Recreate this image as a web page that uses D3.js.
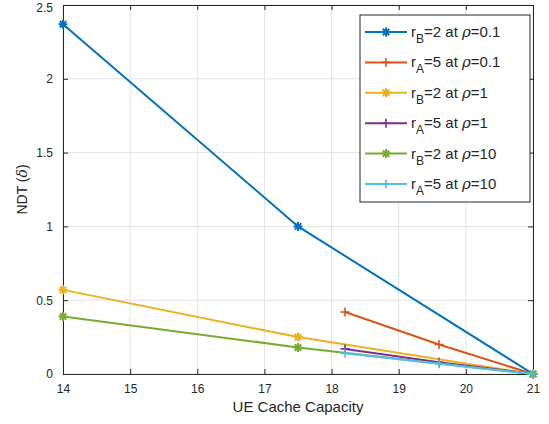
<!DOCTYPE html>
<html>
<head>
<meta charset="utf-8">
<script src="https://cdn.jsdelivr.net/npm/d3@7"></script>
<style>
  body { margin: 0; background: #fff; }
  svg { display: block; font-family: "Liberation Sans", Arial, sans-serif; }
</style>
</head>
<body>
<div id="chart"></div>
<script>
// data
const xTicks = [14, 15, 16, 17, 18, 19, 20, 21];
const yTicks = [0, 0.5, 1, 1.5, 2, 2.5];

const xB = [14, 17.5, 21];
const xA = [18.2, 19.6, 21];

const rB01 = [2.37, 1.0, 0];
const rA01 = [0.42, 0.2, 0];
const rB1 = [0.57, 0.25, 0];
const rA1 = [0.17, 0.08, 0];
const rB10 = [0.39, 0.18, 0];
const rA10 = [0.14, 0.07, 0];

const seriesNames = [
  { sub: "B", val: "2", rho: "0.1" },
  { sub: "A", val: "5", rho: "0.1" },
  { sub: "B", val: "2", rho: "1" },
  { sub: "A", val: "5", rho: "1" },
  { sub: "B", val: "2", rho: "10" },
  { sub: "A", val: "5", rho: "10" }
];
const colors = ["#0072BD", "#D95319", "#EDB120", "#7E2F8E", "#77AC30", "#4DBEEE"];
const markers = ["star", "plus", "star", "plus", "star", "plus"];

const series = [
  { x: xB, y: rB01 }, { x: xA, y: rA01 },
  { x: xB, y: rB1 }, { x: xA, y: rA1 },
  { x: xB, y: rB10 }, { x: xA, y: rA10 }
];

const W = 549, H = 424;
const margin = { left: 63, right: 16, top: 5, bottom: 50 };
const iw = W - margin.left - margin.right;
const ih = H - margin.top - margin.bottom;

const svg = d3.select("#chart").append("svg")
  .attr("width", W).attr("height", H);

const g = svg.append("g").attr("transform", `translate(${margin.left},${margin.top})`);

const x = d3.scaleLinear().domain([14, 21]).range([0, iw]);
const y = d3.scaleLinear().domain([0, 2.5]).range([ih, 0]);

// grid
g.append("g").selectAll("line").data(xTicks).join("line")
  .attr("x1", d => x(d)).attr("x2", d => x(d))
  .attr("y1", 0).attr("y2", ih)
  .attr("stroke", "#e3e3e3").attr("stroke-width", 1);
g.append("g").selectAll("line").data(yTicks).join("line")
  .attr("x1", 0).attr("x2", iw)
  .attr("y1", d => y(d)).attr("y2", d => y(d))
  .attr("stroke", "#e3e3e3").attr("stroke-width", 1);

// axes
const xAxis = g.append("g").attr("transform", `translate(0,${ih})`)
  .call(d3.axisBottom(x).tickValues(xTicks).tickSizeInner(-5).tickSizeOuter(0).tickPadding(8)
    .tickFormat(d3.format("d")));
const yAxis = g.append("g")
  .call(d3.axisLeft(y).tickValues(yTicks).tickSizeInner(-5).tickSizeOuter(0).tickPadding(8)
    .tickFormat(d3.format("~g")));
g.append("g").call(d3.axisTop(x).tickValues(xTicks).tickSizeInner(-5).tickSizeOuter(0).tickFormat(""));
g.append("g").attr("transform", `translate(${iw},0)`)
  .call(d3.axisRight(y).tickValues(yTicks).tickSizeInner(-5).tickSizeOuter(0).tickFormat(""));

g.selectAll(".domain").attr("stroke", "#262626");
g.selectAll(".tick line").attr("stroke", "#262626");
g.selectAll(".tick text").attr("fill", "#262626").style("font-size", "12px")
  .style("font-family", "'Liberation Sans', Arial, sans-serif");
xAxis.selectAll(".tick text").attr("dy", "0.9em");
yAxis.selectAll(".tick text").attr("dx", "-2")
  .attr("y", d => d === 2.5 ? 3 : 0); // keep top label inside the window

// axis labels
svg.append("text")
  .attr("x", margin.left + iw / 2).attr("y", H - 12)
  .attr("text-anchor", "middle").attr("fill", "#262626")
  .style("font-size", "15px").text("UE Cache Capacity");

const yl = svg.append("text")
  .attr("transform", `translate(27,${margin.top + ih / 2}) rotate(-90)`)
  .attr("text-anchor", "middle").attr("fill", "#262626")
  .style("font-size", "14px");
yl.append("tspan").text("NDT (");
yl.append("tspan").style("font-style", "italic").style("font-family", "'DejaVu Serif', serif").text("δ");
yl.append("tspan").text(")");

function markerPath(type, s) {
  if (type === "plus") return `M${-s},0H${s}M0,${-s}V${s}`;
  const d = s * 0.72;
  return `M${-s},0H${s}M0,${-s}V${s}M${-d},${-d}L${d},${d}M${-d},${d}L${d},${-d}`;
}

const line = d3.line().x(d => x(d[0])).y(d => y(d[1]));

series.forEach((s, i) => {
  const pts = s.x.map((v, j) => [v, s.y[j]]);
  g.append("path").datum(pts)
    .attr("fill", "none").attr("stroke", colors[i]).attr("stroke-width", 2)
    .attr("d", line);
  g.append("g").selectAll("path").data(pts).join("path")
    .attr("transform", d => `translate(${x(d[0])},${y(d[1])})`)
    .attr("d", markerPath(markers[i], 4.5))
    .attr("stroke", colors[i]).attr("stroke-width", markers[i] === "star" ? 2 : 1.6)
    .attr("fill", "none");
});

// legend
const lg = svg.append("g").attr("transform", "translate(360,15)");
lg.append("rect").attr("width", 170).attr("height", 187)
  .attr("fill", "#fff").attr("stroke", "#262626").attr("stroke-width", 1);

seriesNames.forEach((n, i) => {
  const cy = 17 + i * 30.4;
  const row = lg.append("g").attr("transform", `translate(0,${cy})`);
  row.append("line").attr("x1", 5).attr("x2", 47).attr("y1", 0).attr("y2", 0)
    .attr("stroke", colors[i]).attr("stroke-width", 2);
  row.append("path").attr("transform", "translate(26,0)")
    .attr("d", markerPath(markers[i], 4.5))
    .attr("stroke", colors[i]).attr("stroke-width", markers[i] === "star" ? 2 : 1.6)
    .attr("fill", "none");
  const t = row.append("text").attr("x", 51).attr("y", 5)
    .attr("fill", "#262626").style("font-size", "15px");
  t.append("tspan").text("r");
  t.append("tspan").attr("dy", 6).style("font-size", "12px").text(n.sub);
  t.append("tspan").attr("dy", -6).text("=" + n.val + " at ");
  t.append("tspan").style("font-style", "italic").style("font-family", "'DejaVu Serif', serif").text("ρ");
  t.append("tspan").text("=" + n.rho);
});
</script>
</body>
</html>
